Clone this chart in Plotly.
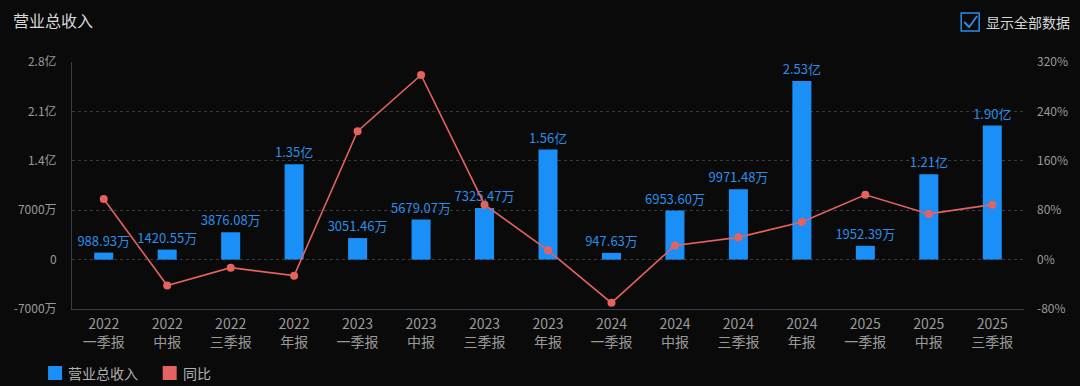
import plotly.graph_objects as go

categories = ["2022<br>一季报", "2022<br>中报", "2022<br>三季报", "2022<br>年报",
              "2023<br>一季报", "2023<br>中报", "2023<br>三季报", "2023<br>年报",
              "2024<br>一季报", "2024<br>中报", "2024<br>三季报", "2024<br>年报",
              "2025<br>一季报", "2025<br>中报", "2025<br>三季报"]
# revenue in 万元
revenue = [988.93, 1420.55, 3876.08, 13500, 3051.46, 5679.07, 7325.47, 15600,
           947.63, 6953.60, 9971.48, 25300, 1952.39, 12100, 19000]
# year-over-year growth, %
yoy = [98, -42, -13, -26, 208, 299, 89, 15, -70, 23, 36, 61, 105, 74, 89]

left_tickvals = [-7000, 0, 7000, 14000, 21000, 28000]
left_ticktext = ["-7000万", "0", "7000万", "1.4亿", "2.1亿", "2.8亿"]
right_tickvals = [-80, 0, 80, 160, 240, 320]
right_ticktext = ["-80%", "0%", "80%", "160%", "240%", "320%"]


def fmt(v):
    if v >= 10000:
        return f"{v/10000:.2f}亿"
    return f"{v:.2f}万"


labels = [fmt(v) for v in revenue]

BLUE = "#1a8ff7"
RED = "#e4625f"
GRID = "#3a3a3a"
TICK = "#9a9a9a"
FONT = "Noto Sans CJK SC"

fig = go.Figure()
fig.add_trace(go.Bar(
    x=categories, y=revenue, name="营业总收入",
    marker=dict(color=BLUE, line=dict(width=0)),
    width=0.3,
    text=labels, textposition="outside", constraintext="none",
    textfont=dict(color="#2a8ee8", size=13, family=FONT),
    cliponaxis=False, showlegend=False,
))
fig.add_trace(go.Scatter(
    x=categories, y=yoy, name="同比", yaxis="y2",
    mode="lines+markers",
    line=dict(color=RED, width=1.6),
    marker=dict(color=RED, size=8),
    showlegend=False, cliponaxis=False,
))

W, H = 1080, 386
L, R, T, B = 72, 53, 62, 77
pw, ph = W - L - R, H - T - B


def px_x(px):
    return (px - L) / pw


def px_y(py):
    return (H - B - py) / ph


def rect(x0, y0, x1, y1, color):
    return dict(type="rect", xref="paper", yref="paper",
                x0=px_x(x0), x1=px_x(x1), y0=px_y(y1), y1=px_y(y0),
                line=dict(width=0), fillcolor=color)


fig.update_layout(
    width=W, height=H,
    margin=dict(l=L, r=R, t=T, b=B),
    paper_bgcolor="#0a0a0a", plot_bgcolor="#0a0a0a",
    font=dict(family=FONT, color=TICK, size=12),
    showlegend=False,
    xaxis=dict(
        range=[-0.5, len(categories) - 0.5],
        tickfont=dict(size=14, color=TICK),
        showgrid=False, showline=True, linecolor="#33404d", linewidth=1,
        ticks="", zeroline=False, ticklabelstandoff=2,
    ),
    yaxis=dict(
        range=[-7000, 28000], tickvals=left_tickvals, ticktext=left_ticktext,
        showgrid=True, gridcolor=GRID, griddash="dot", gridwidth=1,
        zeroline=False, showline=True, linecolor="#33404d", linewidth=1,
        tickfont=dict(size=12, color=TICK), ticks="", ticklabelstandoff=12,
    ),
    yaxis2=dict(
        range=[-80, 320], tickvals=right_tickvals, ticktext=right_ticktext,
        overlaying="y", side="right", showgrid=False, zeroline=False,
        showline=False, tickfont=dict(size=12, color=TICK), ticks="",
        ticklabelstandoff=12,
    ),
    annotations=[
        dict(text="营业总收入", xref="paper", yref="paper", x=px_x(11), y=px_y(20),
             xanchor="left", yanchor="middle", showarrow=False,
             font=dict(size=16, color="#d8d8d8")),
        dict(text="显示全部数据", xref="paper", yref="paper", x=px_x(987), y=px_y(22),
             xanchor="left", yanchor="middle", showarrow=False,
             font=dict(size=14, color="#d8d8d8")),
        dict(text="营业总收入", xref="paper", yref="paper", x=px_x(66), y=px_y(373),
             xanchor="left", yanchor="middle", showarrow=False,
             font=dict(size=14, color="#b0b0b0")),
        dict(text="同比", xref="paper", yref="paper", x=px_x(181), y=px_y(373),
             xanchor="left", yanchor="middle", showarrow=False,
             font=dict(size=14, color="#b0b0b0")),
    ],
    shapes=[
        dict(type="rect", xref="paper", yref="paper",
             x0=px_x(964), x1=px_x(982), y0=px_y(31), y1=px_y(13),
             line=dict(color="#2a8ee8", width=1.5), fillcolor="rgba(0,0,0,0)"),
        dict(type="path", xref="paper", yref="paper",
             path=f"M {px_x(967)} {px_y(22)} L {px_x(972)} {px_y(27)} L {px_x(980)} {px_y(16)}",
             line=dict(color="#2a8ee8", width=1.8)),
        rect(48, 366, 62, 380, BLUE),
        rect(163, 366, 177, 380, RED),
    ],
)

fig.write_html(
    "out.html",
    config={"displayModeBar": False},
    post_script="document.body.style.margin='0';document.body.style.background='#0a0a0a';",
)
